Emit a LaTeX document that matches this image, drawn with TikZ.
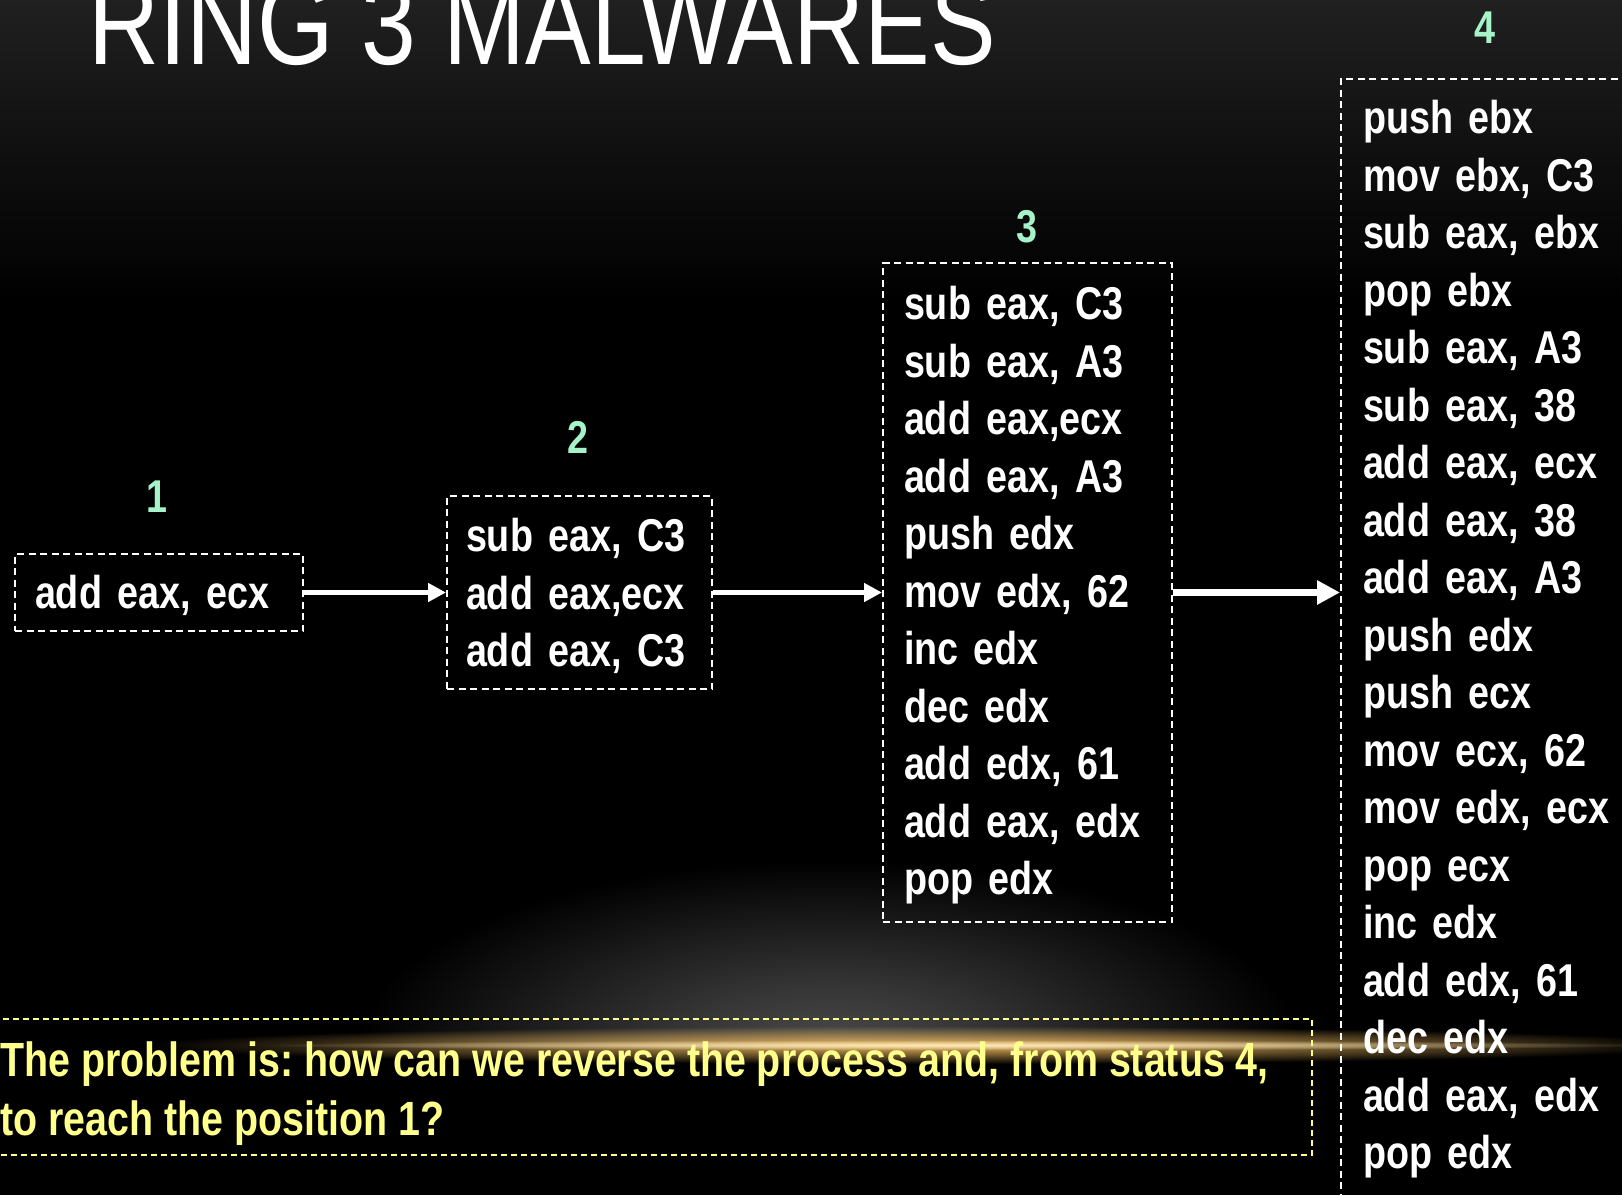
\documentclass[tikz,border=0pt]{standalone}
\usepackage{fontspec}
\setmainfont{Liberation Sans}[FakeStretch=0.82]
\usetikzlibrary{arrows.meta,fadings}

\definecolor{mint}{HTML}{A6F3C9}
\definecolor{lemon}{HTML}{FFFF8C}
\definecolor{streakgold}{HTML}{E2B05A}
\definecolor{streakcore}{HTML}{FBE8B8}
\definecolor{topgray}{HTML}{202020}
\definecolor{glowgray}{HTML}{4A4A4A}

% soft elliptical mask: opaque in the middle, clear at the rim of the path box
\pgfdeclareradialshading{softmask}{\pgfpointorigin}{color(0bp)=(white); color(6bp)=(white!80!black); color(25bp)=(black); color(50bp)=(black)}
\pgfdeclarefading{softfade}{\pgfuseshading{softmask}}
% grey dome of light above the horizon line
\pgfdeclareradialshading{domeshade}{\pgfpointorigin}{color(0bp)=(glowgray); color(8bp)=(glowgray!72!black); color(25bp)=(black); color(50bp)=(black)}

% invisible strut that lowers the first line of a box a little
\newcommand{\toppad}[1]{\rule{0pt}{#1}}

\tikzset{
  codefont/.style={font=\bfseries\frenchspacing\fontsize{46}{57.5}\selectfont},
  codebox/.style={codefont, draw=white, line width=2pt, dash pattern=on 7pt off 4.5pt,
    text=white, align=left, anchor=north west, inner ysep=0pt},
  stagelabel/.style={codefont, text=mint, anchor=base, inner sep=0pt},
  flow/.style={draw=white, line width=4.5pt, -{Triangle[length=18pt,width=18pt]}},
  bigflow/.style={draw=white, line width=7pt, -{Triangle[length=23pt,width=23pt]}},
}

\begin{document}
\begin{tikzpicture}[x=1pt,y=-1pt]
\useasboundingbox (0,0) rectangle (1622,1195);
\clip (0,0) rectangle (1622,1195);

% backdrop
\fill[black] (0,0) rectangle (1622,1195);
\fill[top color=topgray, bottom color=black] (0,0) rectangle (1622,300);

% horizon glow and golden streak
\begin{scope}
  \clip (0,0) rectangle (1622,1046);
  \fill[shading=domeshade] (360,860) rectangle (1300,1230);
\end{scope}
\fill[streakgold, path fading=softfade] (150,1026) rectangle (1700,1064);
\fill[streakcore, path fading=softfade] (260,1040) rectangle (1660,1050);

% title
\node[anchor=base west, inner sep=0pt, text=white, font=\fontsize{120}{124}\selectfont] (title) at (88,64) {RING 3 MALWARES};

% the four stages
\node[codebox, text width=248pt, inner xsep=20pt, minimum height=77pt] (s1) at (14,553)
  {\toppad{40pt}add eax, ecx};
\node[codebox, text width=227pt, inner xsep=19pt, minimum height=193pt] (s2) at (446,495)
  {\toppad{41pt}sub eax, C3\\add eax,ecx\\add eax, C3};
\node[codebox, text width=247pt, inner xsep=21pt, minimum height=659pt] (s3) at (882,262)
  {\toppad{39.5pt}sub eax, C3\\sub eax, A3\\add eax,ecx\\add eax, A3\\push edx\\mov edx, 62\\inc edx\\dec edx\\add edx, 61\\add eax, edx\\pop edx};
\node[codebox, text width=270pt, inner xsep=22pt, inner ysep=21.5pt] (s4) at (1340,78)
  {push ebx\\mov ebx, C3\\sub eax, ebx\\pop ebx\\sub eax, A3\\sub eax, 38\\add eax, ecx\\add eax, 38\\add eax, A3\\push edx\\push ecx\\mov ecx, 62\\mov edx, ecx\\pop ecx\\inc edx\\add edx, 61\\dec edx\\add eax, edx\\pop edx};

% stage numbers
\node[stagelabel] (l1) at (157,512) {1};
\node[stagelabel] (l2) at (578,453) {2};
\node[stagelabel] (l3) at (1027,242) {3};
\node[stagelabel] (l4) at (1485,43) {4};

% transformation arrows
\draw[flow] (s1.east) -- (s2.west |- s1.east);
\draw[flow] (s2.east) -- (s3.west |- s2.east);
\draw[bigflow] (s3.east) -- (s4.west |- s3.east);

% question box
\node[draw=lemon, line width=1.6pt, dash pattern=on 6pt off 4pt, anchor=north west,
  minimum width=1331pt, minimum height=136pt, inner sep=0pt] (qbox) at (-20,1018) {};
\node[font=\bfseries\frenchspacing\fontsize{48}{59}\selectfont, text=lemon, align=left,
  anchor=north west, inner sep=0pt] (qtext) at (0,1041.5)
  {The problem is: how can we reverse the process and, from status 4,\\to reach the position 1?};
\end{tikzpicture}
\end{document}
